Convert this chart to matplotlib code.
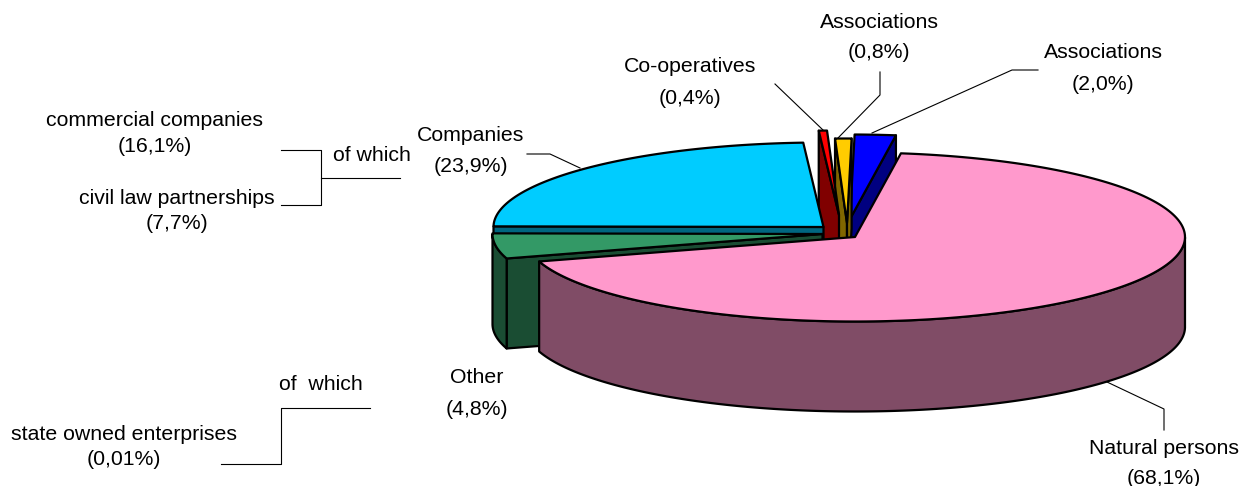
import numpy as np
import matplotlib.pyplot as plt
from matplotlib.patches import Polygon

plt.rcParams['font.family'] = ['Liberation Sans', 'DejaVu Sans']

# slices, clockwise from the start of the big one
categories = ['Natural persons', 'Other', 'Companies', 'Co-operatives', 'Associations', 'Associations']
shares = [68.1, 4.8, 23.9, 0.4, 0.8, 2.0]
share_labels = ['(68,1%)', '(4,8%)', '(23,9%)', '(0,4%)', '(0,8%)', '(2,0%)']

top_colors = ['#FF99CC', '#339966', '#00CCFF', '#FF0000', '#FFCC00', '#0000FF']
side_colors = ['#804C66', '#1A4D33', '#006680', '#800000', '#806600', '#000080']

# where each slice's tip ended up, in pixels (exploded pie)
tips = [(855, 237), (822.5, 234), (823.5, 227), (839, 215), (847, 223), (850, 219)]
RX, RY, DEPTH = 330, 84.5, 90
START = 82.0

LW = 1.6


def rim(tip, a0, a1, n=200):
    t = np.radians(np.linspace(a0, a1, n))
    return np.column_stack([tip[0] + RX * np.cos(t), tip[1] - RY * np.sin(t)])


def draw_slice(ax, tip, a0, a1, top, side, z):
    # a0 > a1, going clockwise
    tip = np.array(tip, dtype=float)
    down = np.array([0, DEPTH])
    edge = rim(tip, a0, a1)

    # cut faces, only those turned to the viewer
    if np.cos(np.radians(a0)) < 0:
        p = edge[0]
        ax.add_patch(Polygon([p, tip, tip + down, p + down], fc=side, ec='k', lw=LW, zorder=z, joinstyle='round'))
    if np.cos(np.radians(a1)) > 0:
        p = edge[-1]
        ax.add_patch(Polygon([p, tip, tip + down, p + down], fc=side, ec='k', lw=LW, zorder=z, joinstyle='round'))

    # outer wall, front half of the ellipse only
    t = np.linspace(a0, a1, 400)
    front = np.sin(np.radians(t)) <= 0
    if front.any():
        wall = rim(tip, t[front][0], t[front][-1])
        ax.add_patch(Polygon(np.vstack([wall, (wall + down)[::-1]]), fc=side, ec='k', lw=LW, zorder=z, joinstyle='round'))

    ax.add_patch(Polygon(np.vstack([[tip], edge]), fc=top, ec='k', lw=LW, zorder=z + 0.5, joinstyle='round'))


fig = plt.figure(figsize=(12.42, 4.86), dpi=100)
ax = fig.add_axes([0, 0, 1, 1])
ax.set_xlim(0, 1242)
ax.set_ylim(486, 0)
ax.axis('off')

angles = START - np.concatenate([[0], np.cumsum(shares)]) * 3.6
order = [5, 4, 3, 2, 1, 0]  # back to front
for z, i in enumerate(order):
    draw_slice(ax, tips[i], angles[i], angles[i + 1], top_colors[i], side_colors[i], 2 + z)

# leader lines
leaders = [
    ([1107, 1164, 1164], [382, 409, 430]),
    ([775, 823], [84, 130]),
    ([880, 880, 838], [72, 95, 138]),
    ([1038, 1012, 872], [70, 70, 133]),
    ([527, 550, 580], [154, 154, 168]),
    ([281, 321, 321, 281], [150, 150, 205, 205]),
    ([321, 400], [178, 178]),
    ([370, 281, 281, 221], [408, 408, 464, 464]),
]
for xs, ys in leaders:
    ax.plot(xs, ys, color='k', lw=0.8, zorder=20)

FS = 15.3
label_pos = [(1164, 448, 478), (477, 377, 409), (471, 135, 166), (690, 67, 98), (879, 22, 53), (1103, 53, 85)]
for name, pct, (x, y0, y1) in zip(categories, share_labels, label_pos):
    ax.text(x, y0, name, ha='center', va='center', fontsize=FS, zorder=30)
    ax.text(x, y1, pct, ha='center', va='center', fontsize=FS, zorder=30)

extra = [
    (155, 120, 'commercial companies'), (155, 146, '(16,1%)'),
    (372, 155, 'of which'),
    (177, 198, 'civil law partnerships'), (177, 223, '(7,7%)'),
    (321, 384, 'of  which'),
    (124, 434, 'state owned enterprises'), (124, 459, '(0,01%)'),
]
for x, y, s in extra:
    ax.text(x, y, s, ha='center', va='center', fontsize=FS, zorder=30)

fig.savefig('out.png', dpi=100)
